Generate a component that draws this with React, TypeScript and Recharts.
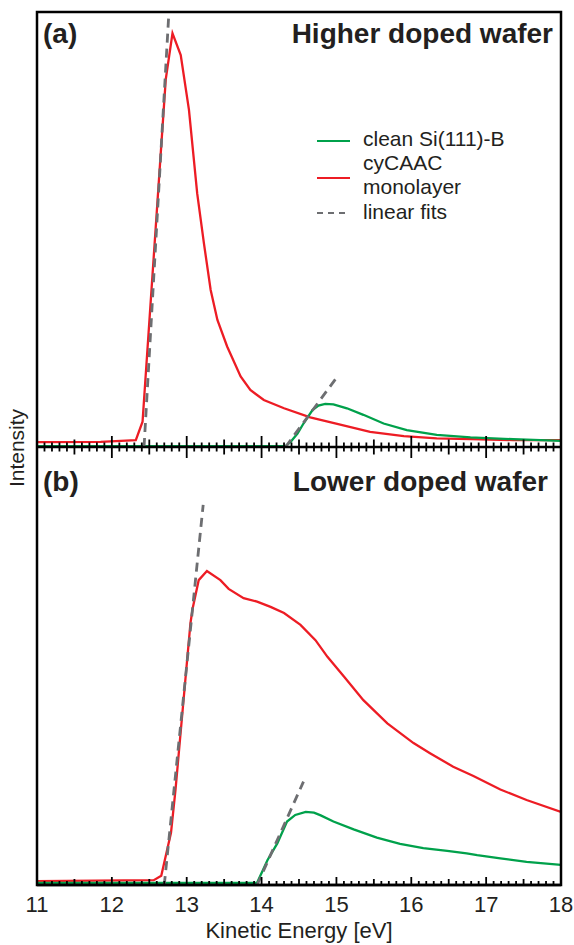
import { LineChart, Line, XAxis, YAxis } from "recharts";

document.body.style.margin = "0";

const FONT = "'Liberation Sans', Arial, sans-serif";
const INK = "#231f20";
const RED = "#ed1c24";
const GREEN = "#00a14b";
const FIT = "#6d6e71";

// x axis: 11..18 eV, labelled every 1 eV, minor ticks every 0.1 eV
const MAJOR_TICKS = [11, 12, 13, 14, 15, 16, 17, 18];
const ALL_TICKS = Array.from({ length: 71 }, (_, k) => 11 + k / 10);

// (a) higher doped wafer
const redA_E = [11.0, 11.85, 12.32, 12.41, 12.72, 12.81, 12.92, 13.03, 13.14, 13.23, 13.32, 13.41, 13.54, 13.72, 13.85, 14.03, 14.3, 14.65, 15.01, 15.45, 15.9, 16.34, 16.79, 17.36, 18.0];
const redA_I = [1.1, 1.2, 1.6, 5.8, 84.5, 95.1, 90.1, 77.5, 58.3, 46.8, 36.1, 29.2, 23.1, 16.2, 13.1, 10.8, 8.9, 6.8, 5.3, 3.5, 2.5, 2.0, 1.8, 1.6, 1.6];
const greenA_E = [11.0, 14.32, 14.39, 14.48, 14.56, 14.68, 14.76, 14.85, 14.96, 15.14, 15.36, 15.63, 15.94, 16.34, 16.79, 17.36, 18.0];
const greenA_I = [0.2, 0.2, 1.2, 3.1, 5.4, 8.5, 9.5, 9.9, 9.8, 8.9, 7.4, 5.4, 3.9, 2.8, 2.2, 1.8, 1.4];
const fitRedA_E = [12.43, 12.76];
const fitRedA_I = [0, 99.3];
const fitGreenA_E = [14.32, 15.03];
const fitGreenA_I = [0, 16.6];

// (b) lower doped wafer
const redB_E = [11.0, 12.56, 12.66, 12.79, 12.85, 12.99, 13.05, 13.08, 13.16, 13.27, 13.45, 13.56, 13.76, 13.94, 14.12, 14.3, 14.52, 14.72, 14.88, 15.1, 15.36, 15.68, 16.03, 16.25, 16.56, 16.83, 17.19, 17.54, 18.0];
const redB_I = [0.9, 1.1, 2.1, 11.9, 21.7, 48.4, 59.8, 63.2, 69.6, 71.7, 69.6, 67.6, 65.5, 64.7, 63.5, 62.1, 59.4, 55.9, 52.1, 47.6, 42.2, 36.9, 32.4, 30.1, 27.0, 24.9, 21.8, 19.4, 16.7];
const greenB_E = [11.0, 13.94, 14.08, 14.21, 14.34, 14.45, 14.59, 14.7, 14.79, 14.96, 15.23, 15.54, 15.85, 16.16, 16.48, 16.74, 16.88, 17.19, 17.54, 18.0];
const greenB_I = [0.5, 0.5, 5.7, 9.5, 14.5, 16.0, 16.7, 16.5, 15.9, 14.5, 12.7, 10.8, 9.4, 8.4, 7.8, 7.2, 6.8, 6.1, 5.3, 4.6];
const fitRedB_E = [12.7, 13.22];
const fitRedB_I = [0, 86.8];
const fitGreenB_E = [13.94, 14.56];
const fitGreenB_I = [0, 23.6];

const zip = (e: number[], i: number[]) => e.map((x, k) => ({ e: x, i: i[k] }));

const tickLen = (v: number, big: number[]) => {
  const k = Math.round((v - 11) * 10);
  return k % 10 === 0 ? big[0] : k % 5 === 0 ? big[1] : big[2];
};

// divider between the panels: ticks cross the line
function TickA({ x, y, payload }: any) {
  const l = tickLen(payload.value, [11, 7.5, 4.5]);
  return <line x1={x} x2={x} y1={y - l} y2={y + l} stroke="#000" strokeWidth={1.8} />;
}

// bottom axis: ticks point inward, labels on integers
function TickB({ x, y, payload }: any) {
  const v = payload.value;
  const l = tickLen(v, [8, 6, 4]);
  const isMajor = MAJOR_TICKS.some((m) => Math.abs(m - v) < 1e-6);
  return (
    <g>
      <line x1={x} x2={x} y1={y} y2={y - l} stroke="#000" strokeWidth={1.8} />
      {isMajor && (
        <text x={x} y={y + 27} textAnchor="middle" fontSize={22} fill={INK} fontFamily={FONT}>
          {Math.round(v)}
        </text>
      )}
    </g>
  );
}

function Series({ red, green, fitRed, fitGreen }: any) {
  return [
    <Line key="r" data={red} dataKey="i" type="linear" stroke={RED} strokeWidth={2.3} dot={false} isAnimationActive={false} />,
    <Line key="g" data={green} dataKey="i" type="linear" stroke={GREEN} strokeWidth={2.3} dot={false} isAnimationActive={false} />,
    <Line key="fr" data={fitRed} dataKey="i" type="linear" stroke={FIT} strokeWidth={2.8} strokeDasharray="9 6" dot={false} isAnimationActive={false} />,
    <Line key="fg" data={fitGreen} dataKey="i" type="linear" stroke={FIT} strokeWidth={2.8} strokeDasharray="9 6" dot={false} isAnimationActive={false} />,
  ];
}

const LEGEND = [
  { label: ["clean Si(111)-B"], color: GREEN, dash: undefined, lineY: 141, textY: 146 },
  { label: ["cyCAAC", "monolayer"], color: RED, dash: undefined, lineY: 178, textY: 170 },
  { label: ["linear fits"], color: FIT, dash: "6 5", lineY: 213, textY: 219 },
];

export default function App() {
  return (
    <div style={{ position: "relative", width: 574, height: 945, background: "#fff", fontFamily: FONT }}>
      <div style={{ position: "absolute", left: 0, top: 0 }}>
        <LineChart width={574} height={460} margin={{ top: 12, right: 13, bottom: 0, left: 37 }}>
          <XAxis
            dataKey="e"
            type="number"
            domain={[11, 18]}
            ticks={ALL_TICKS}
            interval={0}
            height={13}
            tickSize={0}
            tickMargin={0}
            tickLine={false}
            axisLine={{ stroke: "#000", strokeWidth: 2.5 }}
            tick={(p: any) => <TickA {...p} />}
            allowDataOverflow
          />
          <YAxis hide domain={[0, 100]} allowDataOverflow />
          {Series({
            red: zip(redA_E, redA_I),
            green: zip(greenA_E, greenA_I),
            fitRed: zip(fitRedA_E, fitRedA_I),
            fitGreen: zip(fitGreenA_E, fitGreenA_I),
          })}
        </LineChart>
      </div>
      <div style={{ position: "absolute", left: 0, top: 437 }}>
        <LineChart width={574} height={508} margin={{ top: 10, right: 13, bottom: 0, left: 37 }}>
          <XAxis
            dataKey="e"
            type="number"
            domain={[11, 18]}
            ticks={ALL_TICKS}
            interval={0}
            height={60}
            tickSize={0}
            tickMargin={0}
            tickLine={false}
            axisLine={{ stroke: "#000", strokeWidth: 2.5 }}
            tick={(p: any) => <TickB {...p} />}
            label={{ value: "Kinetic Energy [eV]", position: "insideBottom", offset: 7, fontSize: 22, fill: INK, fontFamily: FONT }}
            allowDataOverflow
          />
          <YAxis hide domain={[0, 100]} allowDataOverflow />
          {Series({
            red: zip(redB_E, redB_I),
            green: zip(greenB_E, greenB_I),
            fitRed: zip(fitRedB_E, fitRedB_I),
            fitGreen: zip(fitGreenB_E, fitGreenB_I),
          })}
        </LineChart>
      </div>
      <svg width={574} height={945} style={{ position: "absolute", left: 0, top: 0, pointerEvents: "none" }}>
        <rect x={37} y={12} width={524} height={873} fill="none" stroke="#000" strokeWidth={2.5} />
        <text x={43} y={43} fontSize={28} fontWeight="bold" fill={INK} fontFamily={FONT}>(a)</text>
        <text x={553} y={43} fontSize={28} fontWeight="bold" fill={INK} fontFamily={FONT} textAnchor="end">Higher doped wafer</text>
        <text x={43} y={491} fontSize={28} fontWeight="bold" fill={INK} fontFamily={FONT}>(b)</text>
        <text x={548} y={491} fontSize={28} fontWeight="bold" fill={INK} fontFamily={FONT} textAnchor="end">Lower doped wafer</text>
        <text x={24} y={448} fontSize={21} fill={INK} fontFamily={FONT} textAnchor="middle" transform="rotate(-90 24 448)">Intensity</text>
        {LEGEND.map((it, k) => (
          <g key={k}>
            <line x1={317} x2={350} y1={it.lineY} y2={it.lineY} stroke={it.color} strokeWidth={2} strokeDasharray={it.dash} />
            {it.label.map((t, j) => (
              <text key={j} x={363} y={it.textY + j * 24} fontSize={21} fill={INK} fontFamily={FONT}>{t}</text>
            ))}
          </g>
        ))}
      </svg>
    </div>
  );
}
